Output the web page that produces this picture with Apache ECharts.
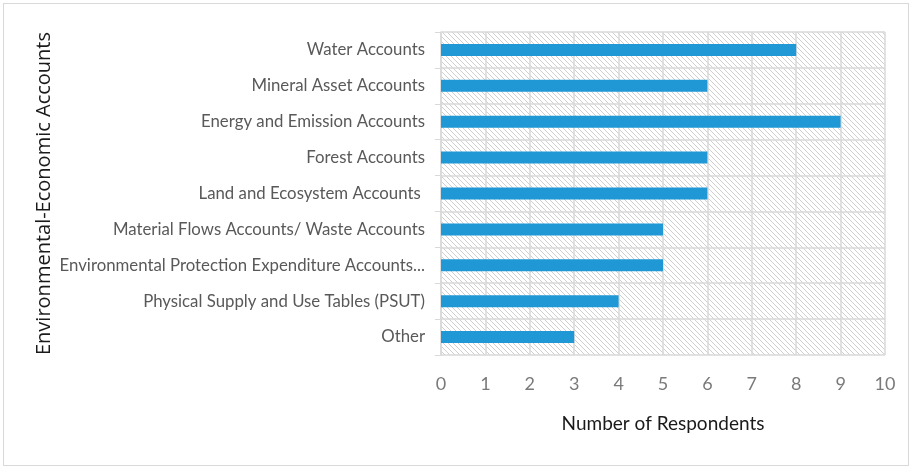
<!DOCTYPE html>
<html>
<head>
<meta charset="utf-8">
<script src="https://cdn.jsdelivr.net/npm/echarts@6/dist/echarts.min.js"></script>
<style>
  html, body { margin: 0; padding: 0; background: #fff; }
  #frame { position: absolute; left: 3px; top: 3px; width: 904px; height: 461px; border: 1px solid #d9d9d9; }
  #chart { width: 912px; height: 469px; position: absolute; left: 0; top: 0; }
</style>
</head>
<body>
<div id="frame"></div>
<div id="chart"></div>
<script>
var categories = ['Other', 'Physical Supply and Use Tables (PSUT)', 'Environmental Protection Expenditure Accounts...',
  'Material Flows Accounts/ Waste Accounts', 'Land and Ecosystem Accounts ', 'Forest Accounts',
  'Energy and Emission Accounts', 'Mineral Asset Accounts', 'Water Accounts'];
var respondents = [3, 4, 5, 5, 6, 6, 9, 6, 8];
var xTicks = [0, 10, 1];  // min, max, interval

// diagonal hatch for the plot background
var T = 5;
var hatch = document.createElement('canvas');
hatch.width = T; hatch.height = T;
var ctx = hatch.getContext('2d');
ctx.fillStyle = '#ffffff';
ctx.fillRect(0, 0, T, T);
ctx.strokeStyle = '#cfcfcf';
ctx.lineWidth = 1;
ctx.beginPath();
ctx.moveTo(-1, -1); ctx.lineTo(T + 1, T + 1);
ctx.moveTo(-1, T - 1); ctx.lineTo(1, T + 1);
ctx.moveTo(T - 1, -1); ctx.lineTo(T + 1, 1);
ctx.stroke();

var chart = echarts.init(document.getElementById('chart'));
var option = {
  animation: false,
  textStyle: { fontFamily: 'Lato' },
  grid: {
    left: 441, right: 27, top: 32, bottom: 114,
    show: true,
    borderWidth: 0,
    backgroundColor: { image: hatch, repeat: 'repeat' }
  },
  xAxis: {
    type: 'value',
    min: xTicks[0], max: xTicks[1], interval: xTicks[2],
    name: 'Number of Respondents',
    nameLocation: 'middle',
    nameGap: 59,
    nameTextStyle: { fontSize: 19, color: '#1a1a1a' },
    axisLine: { show: false },
    axisTick: { show: false },
    axisLabel: { fontSize: 18, color: '#7a7a7a', margin: 20 },
    splitLine: { show: true, lineStyle: { color: '#d9d9d9', width: 1.5 } }
  },
  yAxis: {
    type: 'category',
    data: categories,
    name: 'Environmental-Economic Accounts',
    nameLocation: 'middle',
    nameGap: 387,
    nameRotate: 90,
    nameTextStyle: { fontSize: 20, color: '#1a1a1a', fontFamily: 'Open Sans' },
    axisLine: { show: true, lineStyle: { color: '#d9d9d9', width: 1.5 } },
    axisTick: { show: true, length: 6, lineStyle: { color: '#d9d9d9' } },
    axisLabel: { fontSize: 16.8, color: '#595959', margin: 16 },
    splitLine: { show: true, lineStyle: { color: '#d9d9d9', width: 1.5 } }
  },
  series: [{
    type: 'bar',
    data: respondents,
    barWidth: 12,
    itemStyle: { color: '#1f98d5' }
  }]
};
chart.setOption(option);
</script>
</body>
</html>
